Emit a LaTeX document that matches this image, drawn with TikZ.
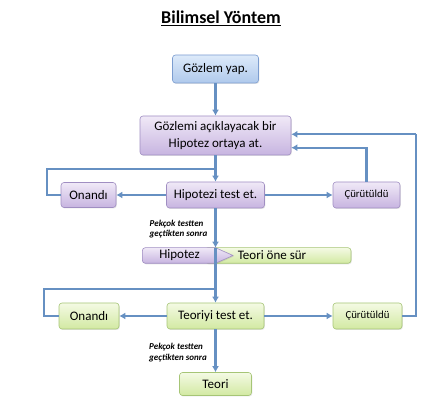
\documentclass[tikz,border=0pt]{standalone}
\usepackage{fontspec}
\setmainfont{Carlito}
\usetikzlibrary{arrows.meta,shadows}
\definecolor{blueT}{HTML}{DDEAFA}
\definecolor{blueB}{HTML}{AFC9EC}
\definecolor{blueD}{HTML}{7C9DD0}
\definecolor{purT}{HTML}{F0E9F7}
\definecolor{purB}{HTML}{C7B4E0}
\definecolor{purD}{HTML}{A08EC2}
\definecolor{grnT}{HTML}{F4FAE4}
\definecolor{grnB}{HTML}{D2E9A2}
\definecolor{grnD}{HTML}{A6C576}
\definecolor{lineC}{HTML}{6690C2}
\begin{document}
\begin{tikzpicture}[x=1pt,y=-1pt,
  box/.style={rounded corners=3pt, inner sep=0pt, line width=0.6pt,
    font=\fontsize{13}{16.5}\selectfont,
    drop shadow={opacity=0.2, shadow xshift=0.8pt, shadow yshift=-1pt}},
  bluebox/.style={box, draw=blueD, top color=blueT, bottom color=blueB},
  purbox/.style={box, draw=purD, top color=purT, bottom color=purB},
  grnbox/.style={box, draw=grnD, top color=grnT, bottom color=grnB},
  small/.style={font=\fontsize{10.8}{12}\selectfont},
  conn/.style={draw=lineC, line width=2.2pt},
  arr/.style={conn, -{Latex[length=6pt,width=7pt]}},
  note/.style={font=\bfseries\itshape\fontsize{9}{10.5}\selectfont, align=left, inner sep=0pt}
]
\useasboundingbox (0,0) rectangle (440,411);

\node[font=\bfseries\fontsize{18}{21}\selectfont] (title) at (221,18) {\underline{Bilimsel Yöntem}};

\node[bluebox, minimum width=86, minimum height=28] (obs) at (215.5,69) {Gözlem yap.};
\node[purbox, minimum width=151, minimum height=39, align=center] (hyp) at (215.5,135.5) {Gözlemi açıklayacak bir\\Hipotez ortaya at.};
\node[purbox, minimum width=55, minimum height=25] (on1) at (88.5,195) {Onandı};
\node[purbox, minimum width=98, minimum height=26] (test1) at (215.5,195) {Hipotezi test et.};
\node[purbox, small, minimum width=67, minimum height=26] (cur1) at (366.5,195) {Çürütüldü};

\node[note] (lab1) at (178.5,229) {Pekçok testten\\geçtikten sonra};

% Hipotez / Teori öne sür
\node[grnbox, minimum width=146, minimum height=15.6] (oner) at (278,255.5) {};
\draw[draw=purD, line width=0.6pt, top color=purT, bottom color=purB,
  drop shadow={opacity=0.2, shadow xshift=0.8pt, shadow yshift=-1pt}]
  (180,247.7) -- (215.5,247.7) -- (233,255.5) -- (215.5,263.3) -- (180,263.3)
  [rounded corners=3pt] -- (142.3,263.3) -- (142.3,247.7) -- cycle;
\node[font=\fontsize{13}{15}\selectfont, inner sep=0pt] (hipo) at (179.5,255.5) {Hipotez};
\node[font=\fontsize{13}{15}\selectfont, inner sep=0pt] (onert) at (272,255.5) {Teori öne sür};

\node[grnbox, minimum width=60, minimum height=26] (on2) at (89,316) {Onandı};
\node[grnbox, minimum width=97, minimum height=26] (test2) at (215.5,316) {Teoriyi test et.};
\node[grnbox, small, minimum width=69, minimum height=26] (cur2) at (367.5,316) {Çürütüldü};

\node[note] (lab2) at (178,352.5) {Pekçok testten\\geçtikten sonra};

\node[grnbox, minimum width=72, minimum height=23] (teori) at (215.5,384) {Teori};

\coordinate (split1) at (215.5,169);
\coordinate (hiptop) at (215.5,247.7);
\coordinate (split2) at (215.5,289);
\coordinate (right2) at (415.7,134.3);

% connectors
\draw[arr] (obs) -- (hyp);
\draw[arr] (hyp) -- (test1);
\draw[conn] (on1.west) -- (47,195) |- (split1);
\draw[arr] (test1) -- (on1);
\draw[arr] (test1) -- (cur1);
\draw[arr] (cur1.north) |- ([yshift=-12.2pt]hyp.east);
\draw[arr] (test1) -- (hiptop);
\draw[conn] (hiptop) -- (split2);
\draw[arr] (split2) -- (test2);
\draw[conn] (on2.west) -- (44,316) |- (split2);
\draw[arr] (test2) -- (on2);
\draw[arr] (test2) -- (cur2);
\draw[conn] (cur2.east) -| (right2);
\draw[arr] (right2) -- (hyp.east |- right2);
\draw[arr] (test2) -- (teori);
\end{tikzpicture}
\end{document}
